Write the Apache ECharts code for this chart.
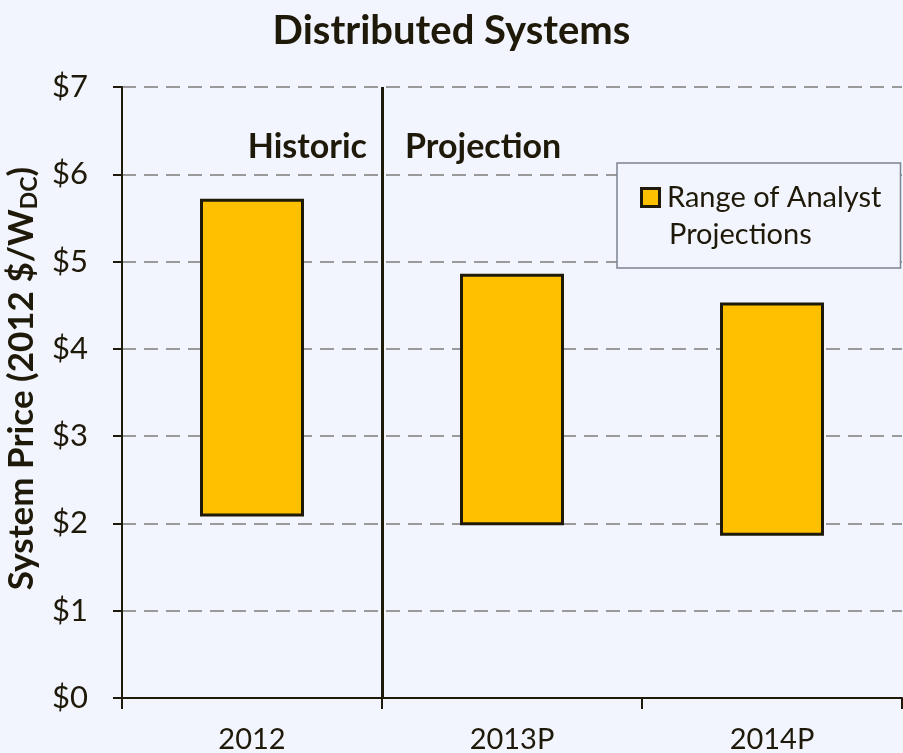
<!DOCTYPE html>
<html>
<head>
<meta charset="utf-8">
<script src="https://cdn.jsdelivr.net/npm/echarts@6/dist/echarts.min.js"></script>
<style>
  html, body { margin: 0; padding: 0; background: #F2F5FE; }
  #chart { width: 903px; height: 753px; }
</style>
</head>
<body>
<div id="chart"></div>
<script>
// data
const categories = ["2012", "2013P", "2014P"];
const lows = [2.08, 1.98, 1.86];
const highs = [5.72, 4.86, 4.53];
const yTicks = [0, 1, 2, 3, 4, 5, 6, 7];
// historic / projection boundary, in category widths from the left
const dividerAt = [1];

const ink = "#1E1909";
const gold = "#FFC000";
const font = "Lato, 'DejaVu Sans', sans-serif";

const ranges = highs.map((h, i) => +(h - lows[i]).toFixed(2));

const myChart = echarts.init(document.getElementById("chart"));

var option = {
  backgroundColor: "#F2F5FE",
  title: {
    text: "Distributed Systems",
    left: "center",
    top: 6,
    textStyle: { fontFamily: font, fontSize: 40, fontWeight: "bold", color: ink },
  },
  legend: {
    data: ["Range of Analyst Projections"],
    left: 617,
    top: 163,
    orient: "vertical",
    icon: "none",
    itemWidth: 0,
    itemHeight: 0,
    padding: [16, 19, 15, 21],
    backgroundColor: "#F2F5FE",
    borderColor: "#7C8490",
    borderWidth: 1.5,
    borderRadius: 0,
    // icon drawn inside the text so it sits on the first line, like the original
    formatter: () => "{box|}{gap|}{t|Range of Analyst}\n{pad|}{t|Projections}",
    textStyle: {
      fontFamily: font,
      fontSize: 29,
      color: ink,
      lineHeight: 37,
      rich: {
        box: { width: 15, height: 15, backgroundColor: gold, borderColor: ink, borderWidth: 3 },
        gap: { width: 9 },
        pad: { width: 26 },
        t: { fontFamily: font, fontSize: 29, color: ink, lineHeight: 37 },
      },
    },
  },
  grid: { left: 122, right: 1, top: 87, bottom: 55, outerBoundsMode: "none" },
  xAxis: [
    {
      type: "category",
      data: categories,
      boundaryGap: true,
      axisLine: { lineStyle: { color: ink, width: 2 } },
      axisTick: { show: true, length: 11, lineStyle: { color: ink, width: 2 } },
      axisLabel: { fontFamily: font, fontSize: 29, color: ink, margin: 27 },
      splitLine: { show: false },
    },
    {
      type: "value",
      min: 0,
      max: categories.length,
      show: false,
    },
  ],
  yAxis: {
    type: "value",
    min: 0,
    max: 7,
    interval: 1,
    name: "{b|System Price (2012 $/W}{s|DC}{b|)}",
    nameLocation: "middle",
    nameGap: 69,
    nameTextStyle: {
      padding: [0, 0, 0, 28],
      rich: {
        b: { fontFamily: font, fontSize: 35, fontWeight: "bold", color: ink },
        s: { fontFamily: font, fontSize: 23, fontWeight: "bold", color: ink, padding: [16, 0, 0, 0] },
      },
    },
    axisLine: { show: true, lineStyle: { color: ink, width: 2 } },
    axisTick: { show: true, length: 9, lineStyle: { color: ink, width: 2 } },
    axisLabel: {
      fontFamily: font,
      fontSize: 31,
      color: ink,
      margin: 34,
      formatter: (v) => (yTicks.includes(v) ? "$" + v : ""),
    },
    splitLine: {
      show: true,
      lineStyle: { color: "#9A9A9A", width: 2, type: [14, 8] },
    },
  },
  graphic: [
    {
      type: "text",
      right: 903 - 367,
      top: 130,
      style: { text: "Historic", font: "bold 34px " + font, fill: ink },
    },
    {
      type: "text",
      left: 405,
      top: 130,
      style: { text: "Projection", font: "bold 34px " + font, fill: ink },
    },
  ],
  series: [
    {
      name: "base",
      type: "bar",
      stack: "range",
      barWidth: "40%",
      data: lows,
      itemStyle: { color: "transparent" },
      silent: true,
      z: 1,
    },
    {
      name: "Range of Analyst Projections",
      type: "bar",
      stack: "range",
      barWidth: "40%",
      data: ranges,
      itemStyle: { color: gold, borderColor: ink, borderWidth: 3 },
      z: 3,
    },
    {
      name: "divider",
      type: "line",
      xAxisIndex: 1,
      data: [],
      silent: true,
      markLine: {
        symbol: "none",
        silent: true,
        label: { show: false },
        lineStyle: { color: ink, width: 3, type: "solid" },
        data: dividerAt.map((x) => ({ xAxis: x })),
      },
    },
  ],
};

myChart.setOption(option);
</script>
</body>
</html>
